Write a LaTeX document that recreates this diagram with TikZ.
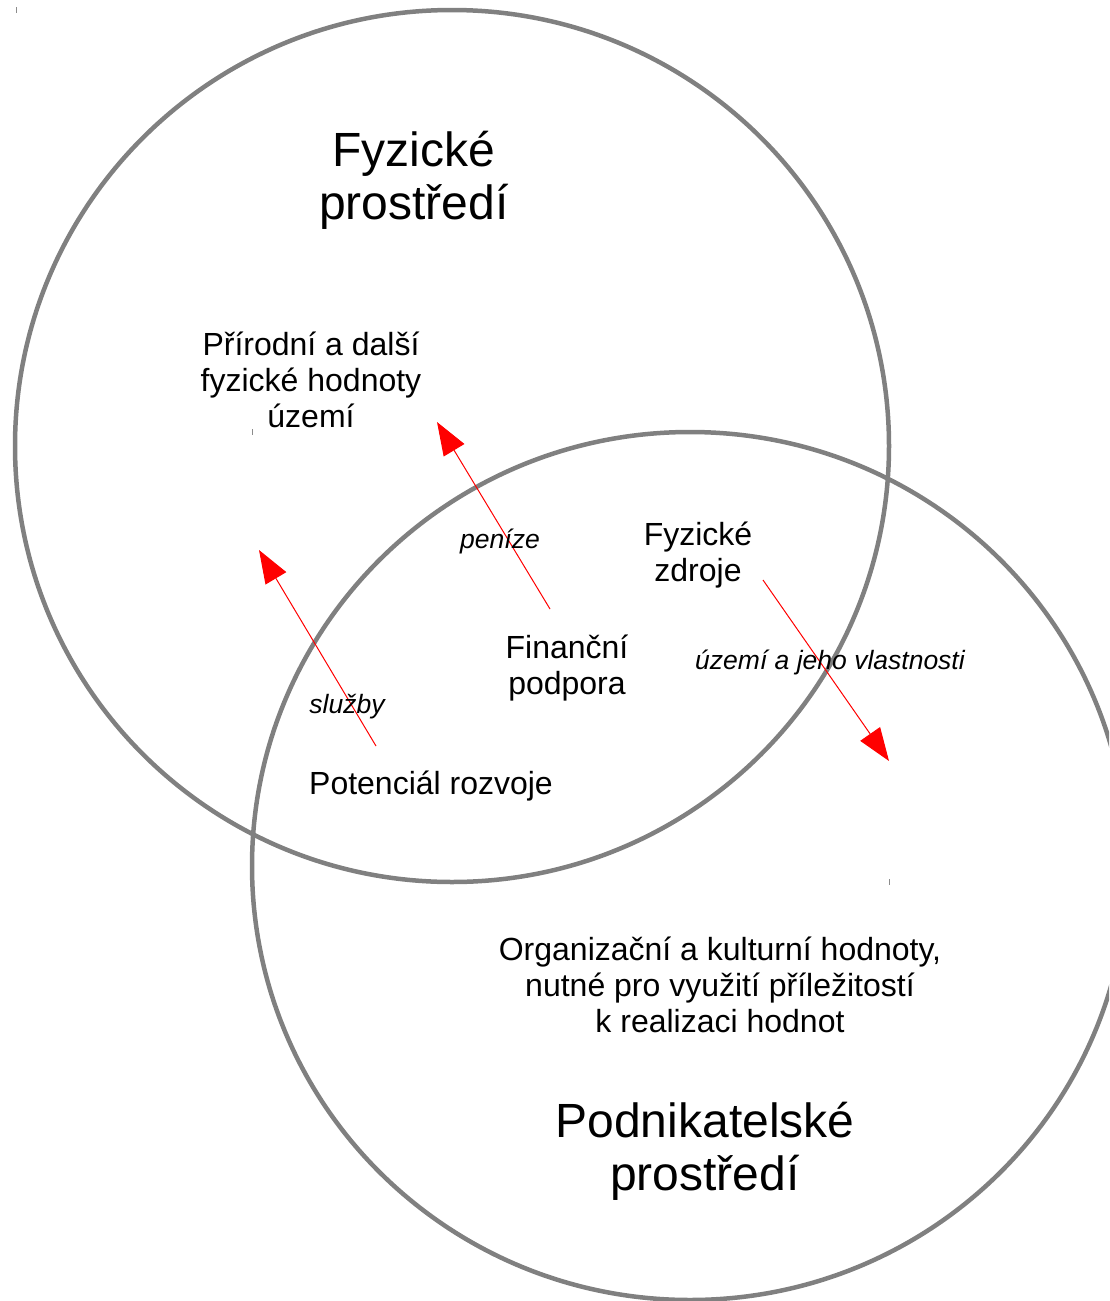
\documentclass[tikz,border=0pt]{standalone}
\usepackage{fontspec}
\setmainfont{Liberation Sans}
\usetikzlibrary{arrows.meta}
\tikzset{
  ring/.style={draw=black!50, line width=4.5pt},
  flow/.style={draw=red, line width=1pt, -{Triangle[length=33pt,width=24pt]}},
  bigtext/.style={align=center, inner sep=0pt, font=\fontsize{48}{53}\selectfont},
  midtext/.style={align=center, inner sep=0pt, font=\fontsize{32}{35.7}\selectfont},
  flowtext/.style={inner sep=0pt, font=\fontsize{26.5}{30}\selectfont\itshape},
  corner/.style={draw=black!45, line width=1pt},
}

\begin{document}
\begin{tikzpicture}[x=1pt,y=-1pt]
		%%%%% START %%%%%
		\useasboundingbox (0,0) rectangle (1109,1301);
		
		\begin{scope}
			\clip (0,0) rectangle (1109,1301);
			\draw[ring] (452,446) circle [x radius=437pt, y radius=436pt];
			\draw[ring] (690,866) circle [x radius=438pt, y radius=434pt];
		\end{scope}
		
		\draw[corner] (16,7) -- (16,13);
		\draw[corner] (252,429) -- (252,435);
		\draw[corner] (889,879) -- (889,885);
		
		\node[bigtext] (fyzprost) at (414,180) {Fyzické\\prostředí};
		\node[bigtext] (podnprost) at (705,1151) {Podnikatelské\\prostředí};
		
		\node[midtext] (hodnoty) at (311,380) {Přírodní a další\\fyzické hodnoty\\území};
		\node[midtext] (zdroje) at (698,555) {Fyzické\\zdroje};
		\node[midtext] (financni) at (567,668) {Finanční\\podpora};
		\node[midtext] (potencial) at (431,786) {Potenciál rozvoje};
		\node[midtext] (organizacni) at (720,985) {Organizační a kulturní hodnoty,\\nutné pro využití příležitostí\\k realizaci hodnot};
		
		\coordinate (fin-out) at (550,609);
		\coordinate (fin-in) at (437,422);
		\coordinate (pot-out) at (376,746);
		\coordinate (pot-in) at (259,550);
		\coordinate (zdr-out) at (763,580);
		\coordinate (zdr-in) at (889,761);
		
		\draw[flow] (fin-out) -- (fin-in);
		\draw[flow] (pot-out) -- (pot-in);
		\draw[flow] (zdr-out) -- (zdr-in);
		
		\node[flowtext] (penize) at (500,541) {peníze};
		\node[flowtext] (sluzby) at (347,707) {služby};
		\node[flowtext] (uzemi) at (830,662) {území a jeho vlastnosti};
		
		%%%%% END %%%%%
\end{tikzpicture}
\end{document}
